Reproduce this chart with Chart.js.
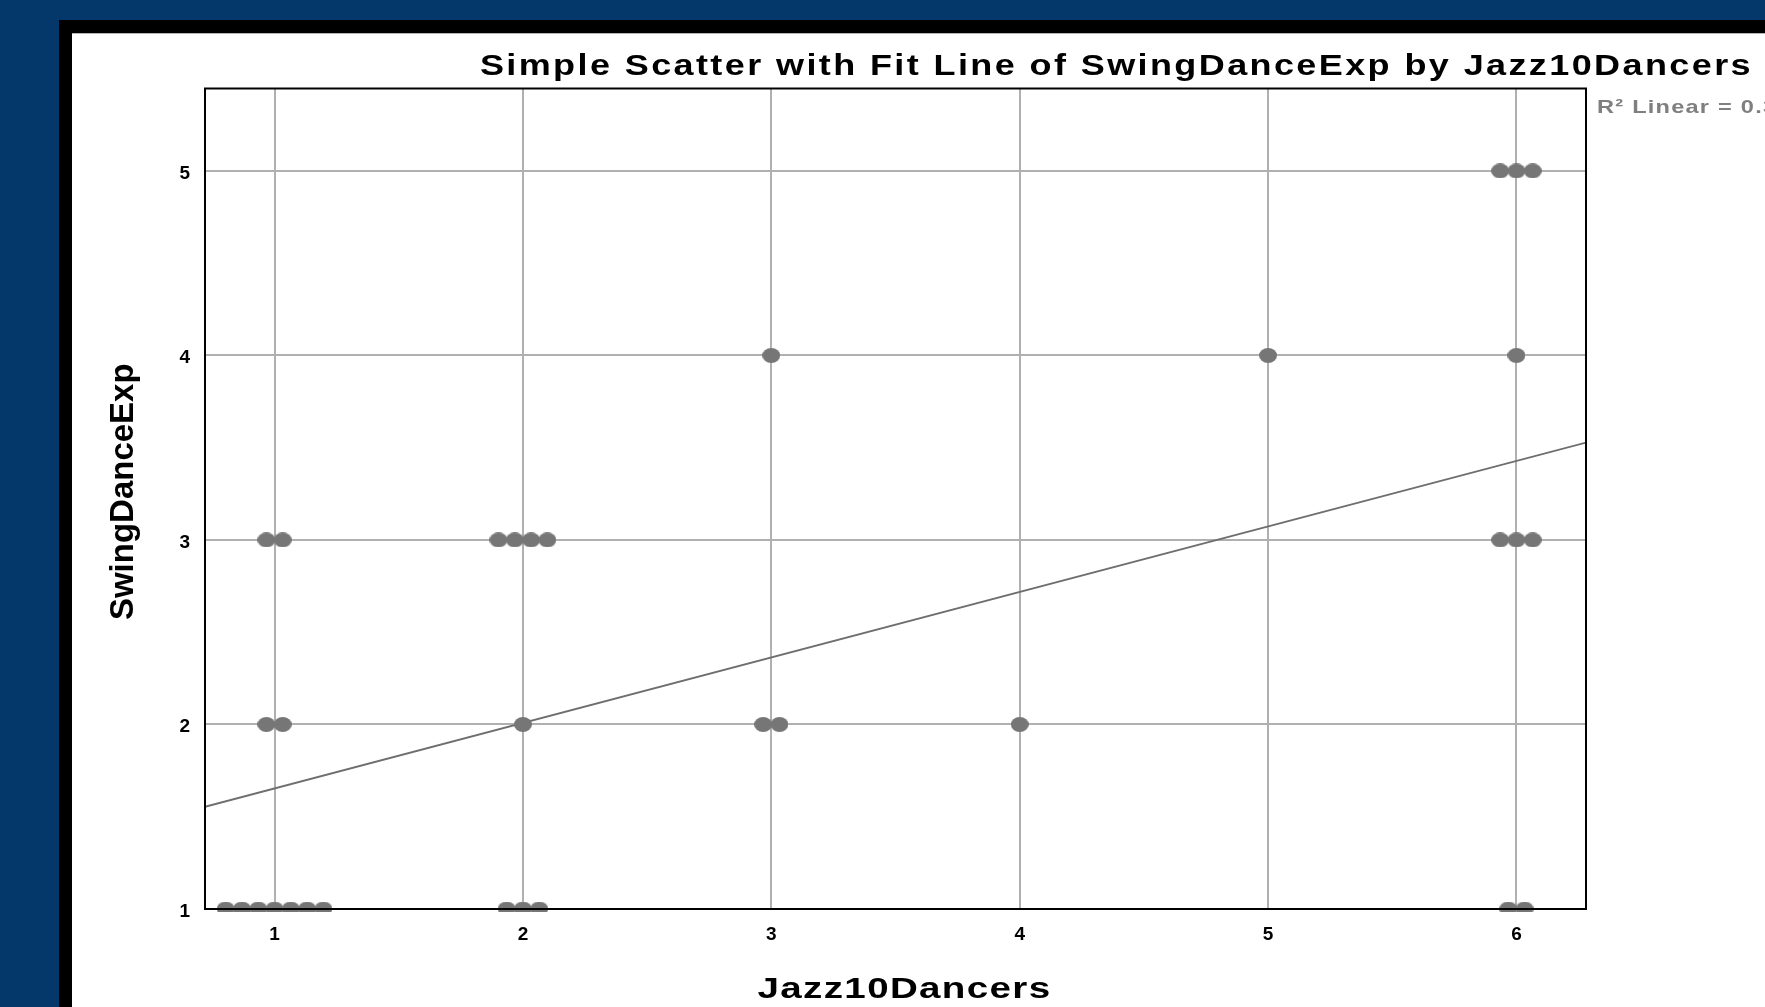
<!DOCTYPE html>
<html>
<head>
<meta charset="utf-8">
<script src="https://cdn.jsdelivr.net/npm/chart.js@4.4.1/dist/chart.umd.min.js"></script>
<style>
  html, body { margin: 0; padding: 0; background: #04386a; overflow: hidden; }
  canvas { display: block; }
</style>
</head>
<body>
<canvas id="chart" width="1765" height="1007"></canvas>
<script>
// ---------------- data ----------------
const xCategories = [1, 2, 3, 4, 5, 6];          // Jazz10Dancers tick values
const yTickValues = [1, 2, 3, 4, 5];             // SwingDanceExp tick values
// grouped observations: Jazz10Dancers value, SwingDanceExp value, number of cases
const obsX     = [1, 1, 1, 2, 2, 2, 3, 3, 4, 5, 6, 6, 6, 6];
const obsY     = [1, 2, 3, 1, 2, 3, 2, 4, 2, 4, 1, 3, 4, 5];
const obsCount = [7, 2, 2, 3, 1, 4, 2, 1, 1, 1, 2, 3, 1, 3];
const xRange = [0.72, 6.28];
const yRange = [1, 5.447];
const chartTitle = 'Simple Scatter with Fit Line of SwingDanceExp by Jazz10Dancers';
const xTitle = 'Jazz10Dancers';
const yTitle = 'SwingDanceExp';

// ---------------- derived ----------------
const DODGE = 0.0656; // horizontal stacking step for coincident cases (x units)
const rawX = [], rawY = [], dots = [];
obsX.forEach((x, i) => {
  const n = obsCount[i];
  for (let k = 0; k < n; k++) {
    rawX.push(x); rawY.push(obsY[i]);
    dots.push({ x: x + (k - (n - 1) / 2) * DODGE, y: obsY[i] });
  }
});
const N = rawX.length;
const mx = rawX.reduce((a, b) => a + b, 0) / N;
const my = rawY.reduce((a, b) => a + b, 0) / N;
let sxy = 0, sxx = 0, syy = 0;
for (let i = 0; i < N; i++) {
  sxy += (rawX[i] - mx) * (rawY[i] - my);
  sxx += (rawX[i] - mx) ** 2;
  syy += (rawY[i] - my) ** 2;
}
const slope = sxy / sxx;
const intercept = my - slope * mx;
const r2 = (sxy * sxy) / (sxx * syy);
const fitPoints = [
  { x: xRange[0], y: intercept + slope * xRange[0] },
  { x: xRange[1], y: intercept + slope * xRange[1] }
];

const FONT = "'Liberation Sans', Arial, Helvetica, sans-serif";
const DOT_COLOR = '#767676';

// elliptical marker
const dot = document.createElement('canvas');
dot.width = 18; dot.height = 15;
{
  const d = dot.getContext('2d');
  d.fillStyle = DOT_COLOR;
  d.beginPath();
  d.ellipse(9, 7.5, 9, 7.5, 0, 0, Math.PI * 2);
  d.fill();
}

function wrap(obj, name, pre) {
  if (!obj || obj['__w_' + name]) return;
  const orig = obj[name];
  obj[name] = function () {
    const ctx = this.ctx || this.chart.ctx;
    ctx.save();
    pre.call(this, ctx);
    orig.apply(this, arguments);
    ctx.restore();
  };
  obj['__w_' + name] = true;
}

const framePlugin = {
  id: 'frame',
  beforeDraw(chart) {
    const ctx = chart.ctx;
    const W = chart.width, H = chart.height;
    ctx.save();
    ctx.fillStyle = '#04386a';
    ctx.fillRect(0, 0, W, H);
    ctx.fillStyle = '#000000';
    ctx.fillRect(59, 20, W - 59, H - 20);
    ctx.fillStyle = '#ffffff';
    ctx.fillRect(72, 34, W - 72, H - 34);
    ctx.fillStyle = '#b4b4b4';
    ctx.fillRect(72, 33, W - 72, 1);
    ctx.restore();

    // wide text rendering like the reference
    wrap(chart.titleBlock, 'draw', function (ctx) {
      const ax = this.right;
      ctx.letterSpacing = '2px';
      ctx.translate(ax, 5); ctx.scale(1.2, 1); ctx.translate(-ax, 0);
    });
    wrap(chart.scales.x, 'drawTitle', function (ctx) {
      const cx = (this.left + this.right) / 2;
      ctx.letterSpacing = '1px';
      ctx.translate(cx + 9, 2); ctx.scale(1.33, 1); ctx.translate(-cx, 0);
    });
    wrap(chart.scales.y, 'drawTitle', function (ctx) {
      ctx.translate(0, -7);
    });
    wrap(chart.scales.y, 'drawLabels', function (ctx) {
      ctx.translate(0, 2.5);
    });
  },
  afterDatasetsDraw(chart) {
    const { ctx, chartArea: a } = chart;
    ctx.save();
    ctx.strokeStyle = '#000000';
    ctx.lineWidth = 2;
    ctx.strokeRect(a.left, a.top, a.right - a.left, a.bottom - a.top);
    ctx.restore();
  },
  afterDraw(chart) {
    const ctx = chart.ctx;
    ctx.save();
    ctx.letterSpacing = '1px';
    ctx.font = 'bold 19px ' + FONT;
    ctx.fillStyle = '#7f7f7f';
    ctx.textAlign = 'left';
    ctx.textBaseline = 'middle';
    ctx.translate(chart.chartArea.right + 11, 108);
    ctx.scale(1.24, 1);
    ctx.fillText('R\u00B2 Linear = ' + r2.toFixed(3), 0, 0);
    ctx.restore();
  }
};

new Chart(document.getElementById('chart').getContext('2d'), {
  type: 'scatter',
  data: {
    datasets: [
      {
        label: 'SwingDanceExp',
        data: dots,
        pointStyle: dot,
        pointRadius: 9,
        backgroundColor: DOT_COLOR,
        borderWidth: 0,
        clip: { left: 0, top: 0, right: 0, bottom: 3 }
      },
      {
        type: 'line',
        label: 'Linear fit',
        data: fitPoints,
        borderColor: '#6e6e6e',
        borderWidth: 1.8,
        pointRadius: 0,
        fill: false,
        tension: 0,
        clip: 0
      }
    ]
  },
  options: {
    responsive: false,
    animation: false,
    events: [],
    layout: { padding: { left: 0, top: 0, right: 12, bottom: 0 } },
    plugins: {
      legend: { display: false },
      tooltip: { enabled: false },
      title: {
        display: true,
        text: chartTitle,
        align: 'end',
        color: '#000000',
        font: { family: FONT, size: 30, weight: 'bold', lineHeight: 1.2 },
        padding: { top: 43.5, bottom: 9 }
      }
    },
    scales: {
      x: {
        type: 'linear',
        position: 'bottom',
        min: xRange[0],
        max: xRange[1],
        afterBuildTicks: s => { s.ticks = xCategories.map(v => ({ value: v })); },
        afterFit: s => { s.height = 98; },
        grid: { color: '#b0b0b0', lineWidth: 2, drawTicks: false },
        border: { display: false },
        ticks: { padding: 14, color: '#000000', font: { family: FONT, size: 19, weight: 'bold' } },
        title: {
          display: true, text: xTitle, color: '#000000',
          font: { family: FONT, size: 29, weight: 'bold', lineHeight: 1.2 },
          padding: { top: 0, bottom: 1.6 }
        }
      },
      y: {
        type: 'linear',
        position: 'left',
        min: yRange[0],
        max: yRange[1],
        afterBuildTicks: s => { s.ticks = yTickValues.map(v => ({ value: v })); },
        afterFit: s => { s.width = 205; },
        grid: { color: '#b0b0b0', lineWidth: 2, drawTicks: false },
        border: { display: false },
        ticks: { padding: 15, color: '#000000', font: { family: FONT, size: 19, weight: 'bold' } },
        title: {
          display: true, text: yTitle, color: '#000000',
          font: { family: FONT, size: 33, weight: 'bold', lineHeight: 1.2 },
          padding: { top: 104, bottom: 0 }
        }
      },
      yRight: {
        type: 'linear',
        position: 'right',
        display: true,
        grid: { display: false },
        border: { display: false },
        ticks: { display: false },
        title: { display: false },
        afterFit: s => { s.width = 167; }
      }
    }
  },
  plugins: [framePlugin]
});
</script>
</body>
</html>
